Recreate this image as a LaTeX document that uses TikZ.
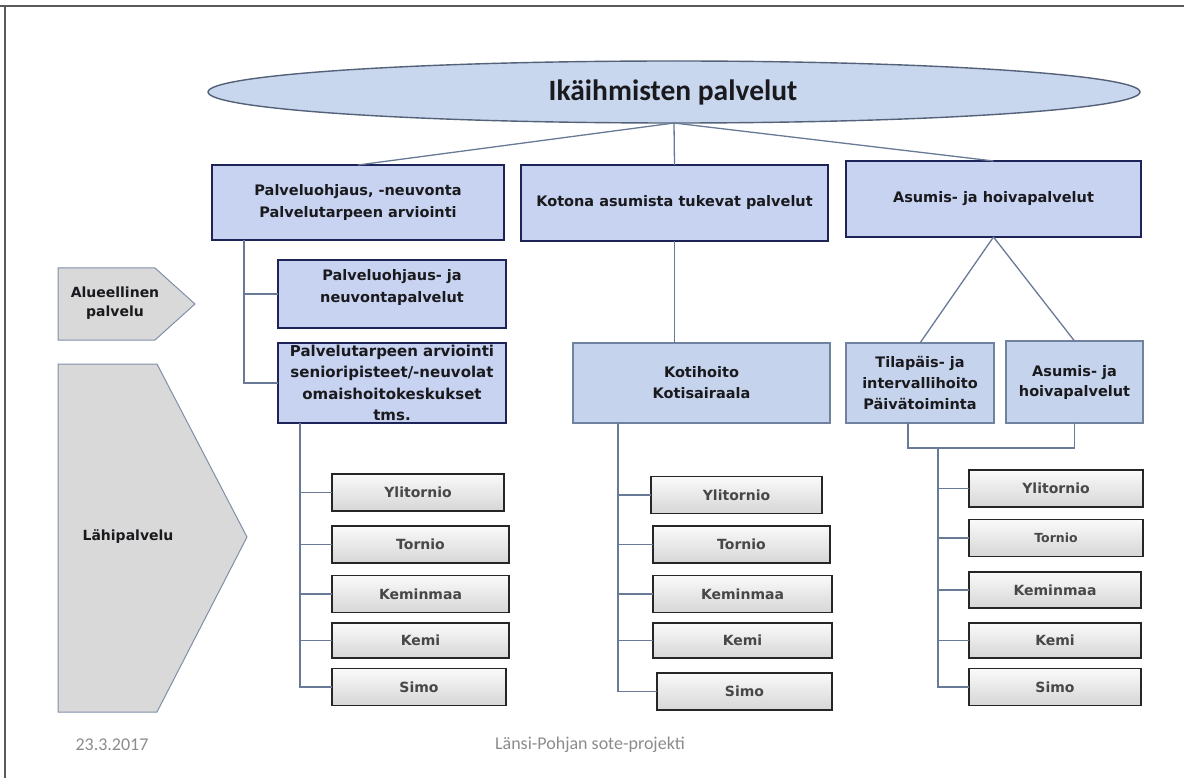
\documentclass[tikz,border=0pt]{standalone}
\usepackage{fontspec}
\setmainfont{DejaVu Sans}
\newfontfamily\titlefont{Carlito}
\usetikzlibrary{shapes.geometric}

\definecolor{boxblue}{RGB}{199,211,240}
\definecolor{ellblue}{RGB}{200,215,238}
\definecolor{lowblue}{RGB}{197,212,236}
\definecolor{navyedge}{RGB}{30,36,88}
\definecolor{lowedge}{RGB}{112,130,160}
\definecolor{linkc}{RGB}{104,122,150}
\definecolor{arrowfill}{RGB}{217,217,217}
\definecolor{arrowedge}{RGB}{128,143,168}
\definecolor{inkc}{RGB}{26,26,30}
\definecolor{footc}{RGB}{140,140,140}
\definecolor{framec}{RGB}{90,90,90}

\tikzset{
  boxtext/.style={font=\bfseries\fontsize{14.5}{22}\selectfont, text=inkc, align=center},
  topbox/.style={boxtext, rectangle, draw=navyedge, line width=1.8pt, fill=boxblue,
    inner sep=0pt, outer sep=0pt},
  lowbox/.style={boxtext, rectangle, draw=lowedge, line width=1.4pt, fill=lowblue,
    inner sep=0pt, outer sep=0pt, font=\bfseries\fontsize{14.5}{21}\selectfont},
  leaf/.style={rectangle, draw=black!85, line width=1.8pt, top color=gray!4,
    bottom color=gray!32, inner sep=0pt, outer sep=0pt, minimum height=37pt,
    font=\bfseries\fontsize{14}{16}\selectfont, text=black!72},
  link/.style={draw=linkc, line width=1.3pt},
  tag/.style={draw=arrowedge, line width=1pt, fill=arrowfill},
  footer/.style={font=\titlefont\fontsize{18}{20}\selectfont, text=footc},
}

\begin{document}
\begin{tikzpicture}[x=1pt, y=-1pt]
\useasboundingbox (0,0) rectangle (1184,778);
\fill[white] (0,0) rectangle (1184,778);

% page frame (top and left rules)
\draw[framec, line width=1.2pt] (0,6) -- (1184,6);
\draw[framec, line width=1.2pt] (5,6) -- (5,778);

% side tags
\draw[tag] (58,268) -- (155,268) -- (195,304) -- (155,340) -- (58,340) -- cycle;
\node[boxtext, font=\bfseries\fontsize{14}{19}\selectfont] (alue) at (115,303) {Alueellinen\\palvelu};
\draw[tag] (58,364) -- (157,364) -- (247,537) -- (157,712) -- (58,712) -- cycle;
\node[boxtext, font=\bfseries\fontsize{14}{19}\selectfont] (lahi) at (128,537) {Lähipalvelu};

% root
\node[ellipse, draw=linkc!80!black, line width=1.4pt, fill=ellblue,
      minimum width=932pt, minimum height=62pt, inner sep=0pt, outer sep=0pt]
      (root) at (674,92) {};
\node[font=\titlefont\bfseries\fontsize{29.5}{31}\selectfont, text=inkc] (title) at (673,92) {Ikäihmisten palvelut};

% top level boxes
\node[topbox, minimum width=292pt, minimum height=75pt] (b1) at (358,202.5)
  {Palveluohjaus, -neuvonta\\Palvelutarpeen arviointi};
\node[topbox, minimum width=307pt, minimum height=76pt] (b2) at (674.5,203)
  {Kotona asumista tukevat palvelut};
\node[topbox, minimum width=295pt, minimum height=76pt] (b3) at (993.5,199)
  {Asumis- ja hoivapalvelut};

% links from root
\draw[link] (root.south) -- (b1.north);
\draw[link] (root.south) -- (b2.north);
\draw[link] (root.south) -- (b3.north);

% second level boxes
\node[topbox, minimum width=228pt, minimum height=68pt] (ba) at (392,294)
  {Palveluohjaus- ja\\neuvontapalvelut\\[-6pt]\mbox{}};
\node[topbox, minimum width=228pt, minimum height=80pt, font=\bfseries\fontsize{15}{21.5}\selectfont] (bb) at (392,383)
  {Palvelutarpeen arviointi\\senioripisteet/-neuvolat\\omaishoitokeskukset\\tms.};
\node[lowbox, minimum width=257pt, minimum height=80pt] (koti) at (701.5,383)
  {Kotihoito\\Kotisairaala};
\node[lowbox, minimum width=148pt, minimum height=80pt] (tila) at (920,383)
  {Tilapäis- ja\\intervallihoito\\Päivätoiminta};
\node[lowbox, minimum width=137pt, minimum height=82pt, font=\bfseries\fontsize{14.5}{20}\selectfont] (asu) at (1074.5,382)
  {Asumis- ja\\hoivapalvelut};

% links to second level
\coordinate (k1) at (244,240);
\draw[link] (k1) |- (ba.west);
\draw[link] (k1) |- (bb.west);
\draw[link] (b2.south) -- (b2.south |- koti.north);
\draw[link] (b3.south) -- (tila.north);
\draw[link] (b3.south) -- (asu.north);
\coordinate (tb) at (908,423);
\coordinate (jn) at (938,448);
\draw[link] (tb) |- (jn) -| (asu.south);

% local units, first column
\node[leaf, minimum width=172pt] (l1a) at (418,492.5) {Ylitornio};
\node[leaf, minimum width=177pt] (l1b) at (420.5,544.5) {Tornio};
\node[leaf, minimum width=177pt] (l1c) at (420.5,594) {Keminmaa};
\node[leaf, minimum width=177pt, minimum height=35pt] (l1d) at (420.5,640.5) {Kemi};
\node[leaf, minimum width=174pt] (l1e) at (419,687) {Simo};
\coordinate (t1) at (300,423);
\foreach \n in {l1a,l1b,l1c,l1d,l1e} \draw[link] (t1) |- (\n.west);

% local units, second column
\node[leaf, minimum width=171pt] (l2a) at (736.5,495) {Ylitornio};
\node[leaf, minimum width=177pt] (l2b) at (741.5,544.5) {Tornio};
\node[leaf, minimum width=179pt] (l2c) at (742.5,594) {Keminmaa};
\node[leaf, minimum width=179pt, minimum height=35pt] (l2d) at (742.5,640.5) {Kemi};
\node[leaf, minimum width=175pt] (l2e) at (744.5,691.5) {Simo};
\coordinate (t2) at (618,423);
\foreach \n in {l2a,l2b,l2c,l2d,l2e} \draw[link] (t2) |- (\n.west);

% local units, third column
\node[leaf, minimum width=174pt] (l3a) at (1056,488.5) {Ylitornio};
\node[leaf, minimum width=174pt, font=\bfseries\fontsize{12.5}{14}\selectfont] (l3b) at (1056,538) {Tornio};
\node[leaf, minimum width=172pt, minimum height=36pt] (l3c) at (1055,590) {Keminmaa};
\node[leaf, minimum width=172pt, minimum height=35pt] (l3d) at (1055,640.5) {Kemi};
\node[leaf, minimum width=172pt] (l3e) at (1055,687) {Simo};
\foreach \n in {l3a,l3b,l3c,l3d,l3e} \draw[link] (jn) |- (\n.west);

% footer
\node[footer] (date) at (112,745) {23.3.2017};
\node[footer] (proj) at (590,745) {Länsi-Pohjan sote-projekti};
\end{tikzpicture}
\end{document}
